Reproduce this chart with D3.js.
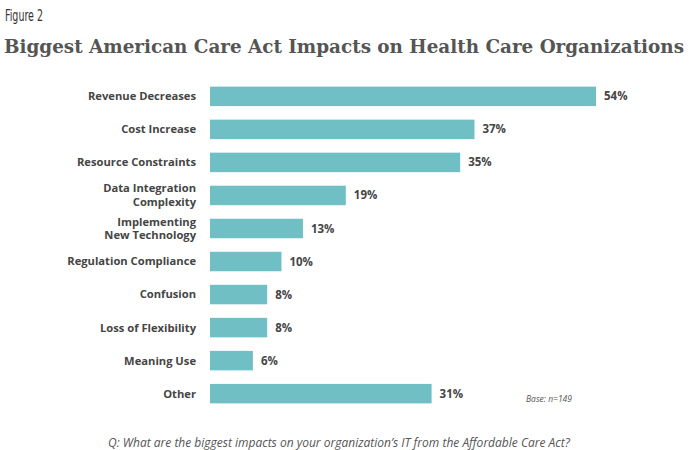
<!DOCTYPE html>
<html lang="en">
	<head>
		<meta charset="utf-8">
		<title>Biggest American Care Act Impacts</title>
		<script type="text/javascript" src="https://d3js.org/d3.v7.min.js"></script>
		<style type="text/css">
			body { margin: 0; background: #fff; }
		</style>
	</head>
	<body>
		<script type="text/javascript">

			//Width and height
			var w = 690;
			var h = 450;

			//Data
			var categories = [
				["Revenue Decreases"],
				["Cost Increase"],
				["Resource Constraints"],
				["Data Integration", "Complexity"],
				["Implementing", "New Technology"],
				["Regulation Compliance"],
				["Confusion"],
				["Loss of Flexibility"],
				["Meaning Use"],
				["Other"]
			];
			var values = [54, 37, 35, 19, 13, 10, 8, 8, 6, 31];

			var barColor = "#6fbfc4";
			var textColor = "#454545";

			//Scales
			var xScale = d3.scaleLinear()
						   .domain([0, 54])
						   .range([210, 596]);

			var yScale = d3.scaleBand()
						   .domain(d3.range(values.length))
						   .range([80, 410])
						   .paddingInner(0.41)
						   .paddingOuter(0.2);

			//Create SVG element
			var svg = d3.select("body")
						.append("svg")
						.attr("width", w)
						.attr("height", h);

			svg.append("text")
			   .text("Figure 2")
			   .attr("x", 5)
			   .attr("y", 21)
			   .attr("textLength", 38)
			   .attr("lengthAdjust", "spacingAndGlyphs")
			   .attr("font-family", "'DejaVu Sans Condensed', 'Liberation Sans', sans-serif")
			   .attr("font-size", "15px")
			   .attr("fill", "#333");

			svg.append("text")
			   .text("Biggest American Care Act Impacts on Health Care Organizations")
			   .attr("x", 4)
			   .attr("y", 53)
			   .attr("textLength", 680)
			   .attr("lengthAdjust", "spacingAndGlyphs")
			   .attr("font-family", "'DejaVu Serif Condensed', 'DejaVu Serif', serif")
			   .attr("font-weight", "bold")
			   .attr("font-size", "18.5px")
			   .attr("fill", "#555");

			//Bars
			svg.selectAll("rect.bar")
			   .data(values)
			   .enter()
			   .append("rect")
			   .attr("class", "bar")
			   .attr("x", xScale(0))
			   .attr("y", function(d, i) { return yScale(i); })
			   .attr("width", function(d) { return xScale(d) - xScale(0); })
			   .attr("height", yScale.bandwidth())
			   .attr("fill", barColor);

			//Value labels
			svg.selectAll("text.val")
			   .data(values)
			   .enter()
			   .append("text")
			   .attr("class", "val")
			   .text(function(d) { return d + "%"; })
			   .attr("x", function(d) { return xScale(d) + 8; })
			   .attr("y", function(d, i) { return yScale(i) + yScale.bandwidth() / 2; })
			   .attr("dy", "0.35em")
			   .attr("font-family", "'Open Sans', sans-serif")
			   .attr("font-weight", "bold")
			   .attr("font-size", "11.5px")
			   .attr("fill", textColor);

			//Category labels
			var lab = svg.selectAll("text.cat")
			   .data(categories)
			   .enter()
			   .append("text")
			   .attr("class", "cat")
			   .attr("text-anchor", "end")
			   .attr("font-family", "'Open Sans', sans-serif")
			   .attr("font-weight", "bold")
			   .attr("font-size", "11.2px")
			   .attr("fill", textColor);

			lab.selectAll("tspan")
			   .data(function(d, i) {
			   		return d.map(function(s, j) { return {s: s, j: j, n: d.length, i: i}; });
			   })
			   .enter()
			   .append("tspan")
			   .attr("x", 196)
			   .attr("y", function(d) {
			   		var c = yScale(d.i) + yScale.bandwidth() / 2;
			   		return c + (d.j - (d.n - 1) / 2) * 13.8;
			   })
			   .attr("dy", "0.35em")
			   .text(function(d) { return d.s; });

			svg.append("text")
			   .text("Base: n=149")
			   .attr("x", 526)
			   .attr("y", 402)
			   .attr("font-family", "'Open Sans', sans-serif")
			   .attr("font-style", "italic")
			   .attr("font-size", "8.5px")
			   .attr("fill", "#555");

			svg.append("text")
			   .text("Q: What are the biggest impacts on your organization\u2019s IT from the Affordable Care Act?")
			   .attr("x", 108)
			   .attr("y", 447)
			   .attr("font-family", "'Open Sans', sans-serif")
			   .attr("font-style", "italic")
			   .attr("font-size", "12px")
			   .attr("fill", "#555");

		</script>
	</body>
</html>
